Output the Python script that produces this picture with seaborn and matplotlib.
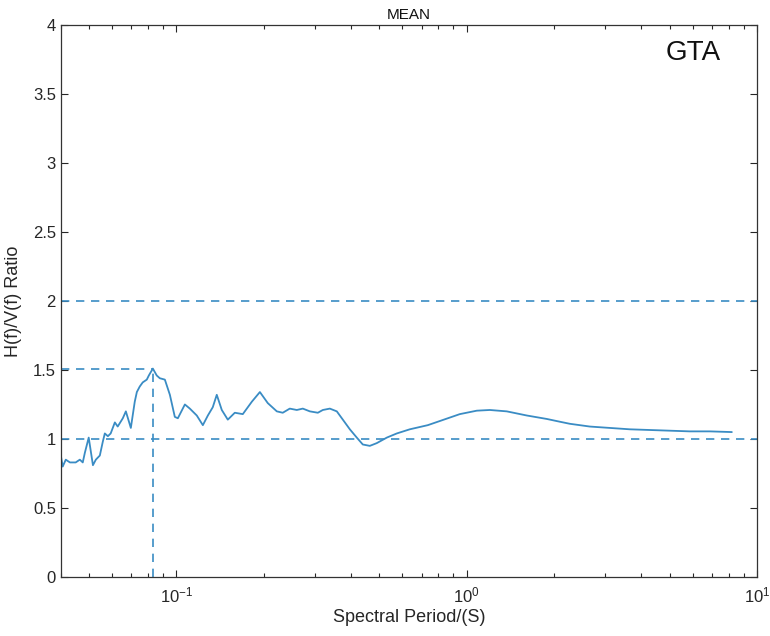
import matplotlib
matplotlib.use("Agg")
import matplotlib.pyplot as plt
import matplotlib.ticker as mticker
import numpy as np
import pandas as pd
import seaborn as sns

# Mean H/V spectral ratio against period
period = [0.0400, 0.0406, 0.0416, 0.0430, 0.0440, 0.0450, 0.0465, 0.0476, 0.0484,
          0.0499, 0.0516, 0.0528, 0.0545, 0.0558, 0.0567, 0.0581, 0.0594, 0.0614,
          0.0628, 0.0654, 0.0670, 0.0697, 0.0719, 0.0731, 0.0748, 0.0766, 0.0791,
          0.0804, 0.0830, 0.0856, 0.0877, 0.0913, 0.0950, 0.0988, 0.1012, 0.1070,
          0.1113, 0.1176, 0.1234, 0.1284, 0.1335, 0.1378, 0.1434, 0.1504, 0.1590,
          0.1694, 0.1820, 0.1940, 0.2065, 0.2219, 0.2326, 0.2459, 0.2600, 0.2727,
          0.2884, 0.3072, 0.3196, 0.3379, 0.3571, 0.3746, 0.3960, 0.4184, 0.4388,
          0.4639, 0.4904, 0.5310, 0.5747, 0.6371, 0.7348, 0.8085, 0.9473, 1.084,
          1.202, 1.375, 1.612, 1.889, 2.094, 2.267, 2.657, 3.113, 3.648, 4.276,
          5.011, 5.872, 6.881, 8.197]
hv_ratio = [0.88, 0.80, 0.85, 0.83, 0.83, 0.83, 0.85, 0.83, 0.90,
            1.01, 0.81, 0.85, 0.88, 0.98, 1.04, 1.02, 1.04, 1.12,
            1.09, 1.15, 1.20, 1.08, 1.27, 1.34, 1.38, 1.41, 1.43,
            1.46, 1.51, 1.46, 1.44, 1.43, 1.32, 1.16, 1.15, 1.25,
            1.22, 1.17, 1.10, 1.17, 1.23, 1.32, 1.21, 1.14, 1.19,
            1.18, 1.27, 1.34, 1.26, 1.20, 1.19, 1.22, 1.21, 1.22,
            1.20, 1.19, 1.21, 1.22, 1.20, 1.14, 1.07, 1.01, 0.96,
            0.95, 0.97, 1.01, 1.04, 1.07, 1.10, 1.13, 1.18, 1.205,
            1.21, 1.20, 1.17, 1.145, 1.125, 1.11, 1.09, 1.08, 1.07, 1.065,
            1.06, 1.055, 1.055, 1.05]

peak_period = 0.0830
peak_ratio = 1.51
ref_levels = [1.0, 2.0]

df = pd.DataFrame({"period": period, "ratio": hv_ratio})

sns.set_theme(style="ticks")
plt.rcParams["font.family"] = ["Liberation Sans", "DejaVu Sans"]
plt.rcParams["mathtext.fontset"] = "custom"
plt.rcParams["mathtext.rm"] = "Liberation Sans"
plt.rcParams["mathtext.default"] = "regular"

line_color = "#3a8cc4"
dash = (0, (5, 4))

fig = plt.figure(figsize=(7.70, 6.36), dpi=100)
ax = fig.add_axes([0.079, 0.0928, 0.904, 0.868])

sns.lineplot(data=df, x="period", y="ratio", ax=ax, color=line_color,
             linewidth=1.3, estimator=None, sort=False,
             solid_joinstyle="round", solid_capstyle="round")

for lvl in ref_levels:
    ax.axhline(lvl, color=line_color, linestyle=dash, linewidth=1.2)
ax.plot([0.04, peak_period], [peak_ratio, peak_ratio], color=line_color,
        linestyle=dash, linewidth=1.2)
ax.plot([peak_period, peak_period], [0, peak_ratio], color=line_color,
        linestyle=dash, linewidth=1.2)

ax.set_xscale("log")
ax.set_xlim(0.04, 10)
ax.set_ylim(0, 4)
ax.set_yticks(np.arange(0, 4.01, 0.5))
ax.yaxis.set_major_formatter(mticker.FuncFormatter(lambda v, p: f"{v:g}"))
ax.xaxis.set_major_locator(mticker.LogLocator(base=10, numticks=10))
ax.xaxis.set_minor_locator(mticker.LogLocator(base=10, subs=np.arange(2, 10), numticks=20))
ax.xaxis.set_minor_formatter(mticker.NullFormatter())

ax.tick_params(axis="both", which="both", direction="in", top=True, right=True,
               colors="#262626", labelsize=12, width=0.8)
ax.tick_params(which="major", length=5)
ax.tick_params(which="minor", length=3)
ax.tick_params(axis="x", pad=6)
for s in ax.spines.values():
    s.set_color("#333333")
    s.set_linewidth(0.9)

ax.set_xlabel("Spectral Period/(S)", fontsize=13, color="#262626", labelpad=3)
ax.set_ylabel("H(f)/V(f) Ratio", fontsize=13, color="#262626", labelpad=8)
ax.set_title("MEAN", fontsize=11, color="#111111", pad=4)
ax.text(0.908, 0.949, "GTA", transform=ax.transAxes, fontsize=20,
        ha="center", va="center", color="#111111")

fig.savefig("out.png", dpi=100)
